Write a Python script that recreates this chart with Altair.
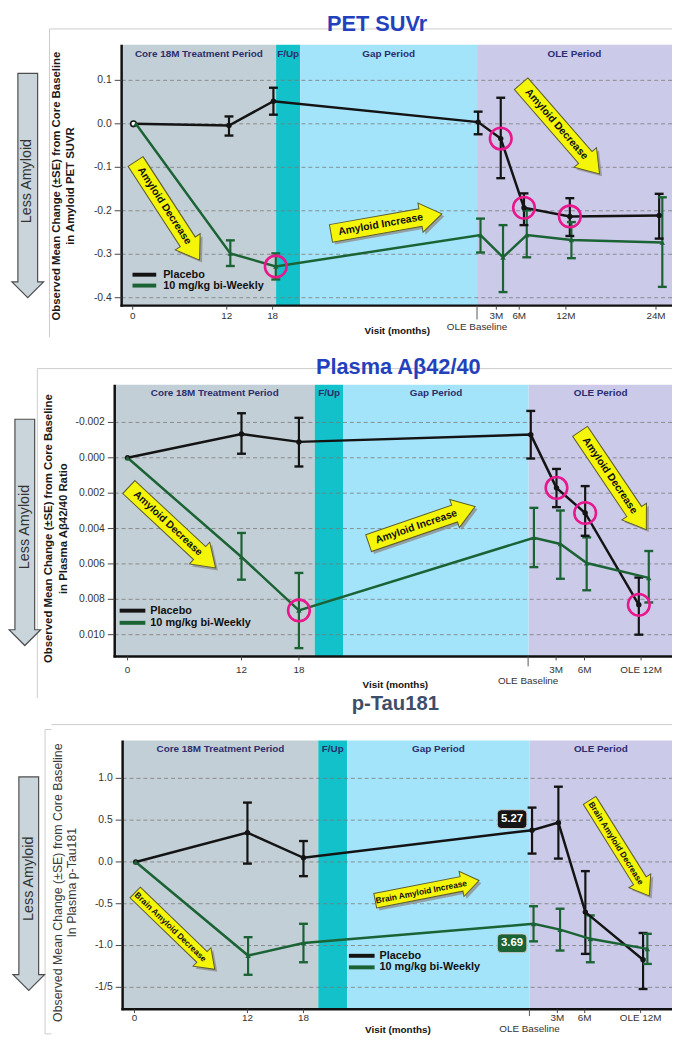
import altair as alt
import pandas as pd

FONT = "Liberation Sans"
OFF = 8  # page margin: all layout numbers below are page pixels
SERIES = ["Placebo", "10 mg/kg bi-Weekly"]
SERIES_COLORS = ["#141414", "#1b6334"]
PERIODS = ["Core 18M Treatment Period", "F/Up", "Gap Period", "OLE Period"]
PERIOD_COLORS = ["#c3cfd6", "#12c1ca", "#a3e4fb", "#cbcae9"]
CIRCLE_COLOR = "#e8178c"
CHART_W, CHART_H = 672, 1033

# ---------------- Panel 1: PET SUVr ----------------
pet_visits = ["0", "12", "18", "OLE Baseline", "3M", "6M", "12M", "24M"]
pet_tick_pos = [-0.1, 11.8, 17.6, 45.9, 48.8, 54.7, 66.1]
pet_tick_lab = ["0", "12", "18", "3M", "6M", "12M", "24M"]
pet_ole_bl = 43.46
pet_band_edges = [-1.5, 18.04, 21.1, 43.46, 68.125]
pet_x_placebo = [0.0, 12.08, 17.7, 43.6, 46.46, 49.4, 55.2, 66.5]
pet_x_treat = [0.3, 12.25, 18.0, 43.9, 46.75, 49.75, 55.4, 66.9]
pet_placebo = [0.0, -0.004, 0.052, 0.004, -0.034, -0.193, -0.213, -0.211]
pet_placebo_lo = [0.0, -0.027, 0.021, -0.024, -0.125, -0.233, -0.258, -0.264]
pet_placebo_hi = [0.0, 0.017, 0.083, 0.028, 0.060, -0.160, -0.171, -0.161]
pet_treat = [0.0, -0.298, -0.328, -0.256, -0.307, -0.256, -0.267, -0.273]
pet_treat_lo = [0.0, -0.327, -0.358, -0.296, -0.387, -0.307, -0.309, -0.375]
pet_treat_hi = [0.0, -0.268, -0.298, -0.218, -0.233, -0.199, -0.226, -0.169]
pet_yticks = [0.1, 0.0, -0.1, -0.2, -0.3, -0.4]
pet_ylabels = ["0.1", "0.0", "-0.1", "-0.2", "-0.3", "-0.4"]
pet_circled = [("10 mg/kg bi-Weekly", "18"), ("Placebo", "3M"), ("Placebo", "6M"), ("Placebo", "12M")]
pet_note_text = ["Amyloid Decrease", "Amyloid Increase", "Amyloid Decrease"]
pet_note_x = [4.31, 32.0, 54.0]
pet_note_y = [-0.200, -0.2295, -0.0114]
pet_note_angle = [57, 350, 49]
pet_note_len = [119, 114, 121]

# ---------------- Panel 2: Plasma Abeta42/40 ----------------
ab_visits = ["0", "12", "18", "OLE Baseline", "3M", "6M", "OLE 12M"]
ab_tick_pos = [0.0, 12.0, 18.05, 45.14, 48.13, 54.09]
ab_tick_lab = ["0", "12", "18", "3M", "6M", "OLE 12M"]
ab_ole_bl = 42.19
ab_band_edges = [-1.354, 19.72, 22.74, 42.25, 57.4]
ab_x_placebo = [0.0, 12.0, 18.05, 42.47, 45.18, 48.2, 53.85]
ab_x_treat = [0.0, 12.0, 18.05, 42.8, 45.59, 48.36, 54.9]
ab_placebo = [0.0, -0.00135, -0.0009, -0.00131, 0.0017, 0.00312, 0.00831]
ab_placebo_lo = [0.0, -0.00252, -0.00226, -0.00265, 0.00063, 0.0016, 0.00677]
ab_placebo_hi = [0.0, -0.00023, 0.00049, 0.00004, 0.00279, 0.00441, 0.0100]
ab_treat = [0.0, 0.00561, 0.00863, 0.00452, 0.00487, 0.00595, 0.00679]
ab_treat_lo = [0.0, 0.00425, 0.00651, 0.00283, 0.00298, 0.0045, 0.00527]
ab_treat_hi = [0.0, 0.00689, 0.01076, 0.00618, 0.00684, 0.00749, 0.00818]
ab_yticks = [-0.002, 0.0, 0.002, 0.004, 0.006, 0.008, 0.010]
ab_ylabels = ["-0.002", "0.000", "0.002", "0.004", "0.006", "0.008", "0.010"]
ab_circled = [("10 mg/kg bi-Weekly", "18"), ("Placebo", "3M"), ("Placebo", "6M"), ("Placebo", "OLE 12M")]
ab_note_text = ["Amyloid Decrease", "Amyloid Increase", "Amyloid Decrease"]
ab_note_x = [4.7, 31.0, 51.15]
ab_note_y = [0.00394, 0.00379, 0.00128]
ab_note_angle = [43, 341, 56]
ab_note_len = [120, 114, 120]

# ---------------- Panel 3: p-Tau181 ----------------
tau_visits = ["0", "12", "18", "OLE Baseline", "3M", "6M", "OLE 12M"]
tau_tick_pos = [-0.14, 11.96, 17.96, 45.15, 48.08, 54.07]
tau_tick_lab = ["0", "12", "18", "3M", "6M", "OLE 12M"]
tau_ole_bl = 42.16
tau_band_edges = [-1.407, 19.55, 22.65, 42.18, 57.43]
tau_x_placebo = [0.0, 11.96, 17.96, 42.44, 45.26, 48.15, 54.33]
tau_x_treat = [0.0, 12.03, 17.96, 42.6, 45.44, 48.68, 54.79]
tau_placebo = [0.0, 0.35, 0.05, 0.38, 0.47, -0.60, -1.17]
tau_placebo_lo = [0.0, -0.02, -0.17, 0.10, 0.04, -1.10, -1.52]
tau_placebo_hi = [0.0, 0.71, 0.25, 0.65, 0.90, -0.11, -0.85]
tau_treat = [0.0, -1.12, -0.97, -0.74, -0.81, -0.92, -1.04]
tau_treat_lo = [0.0, -1.35, -1.20, -0.95, -1.06, -1.20, -1.22]
tau_treat_hi = [0.0, -0.90, -0.74, -0.53, -0.56, -0.64, -0.86]
tau_yticks = [1.0, 0.5, 0.0, -0.5, -1.0, -1.5]
tau_ylabels = ["1.0", "0.5", "0.0", "-0.5", "-1.0", "-1/5"]
tau_note_text = ["Brain Amyloid Decrease", "Brain Amyloid Increase", "Brain Amyloid Decrease"]
tau_note_x = [4.2, 31.2, 51.8]
tau_note_y = [-0.825, -0.343, 0.165]
tau_note_angle = [44, 349, 58]
tau_note_len = [112, 107, 114]
tau_box_text = ["5.27", "3.69"]
tau_box_x = [40.3, 40.3]
tau_box_y = [0.512, -0.973]
tau_box_fill = ["#151515", "#1b6334"]

YTITLE1 = "Observed Mean Change (\u00b1SE) from Core Baseline"
ONE = pd.DataFrame({"k": [0]})


def px(v):
    return v - OFF


def arrow_path(L, body, head, headlen):
    r = L / 2.0
    b, hh, hx = body / r, head / r, 1 - headlen / r
    return (f"M-1,{-b:.4f}L{hx:.4f},{-b:.4f}L{hx:.4f},{-hh:.4f}L1,0"
            f"L{hx:.4f},{hh:.4f}L{hx:.4f},{b:.4f}L-1,{b:.4f}Z")


def box_path(w, h, rad):
    r = w / 2.0
    hy, c = (h / 2.0) / r, rad / r
    return (f"M{-1 + c:.4f},{-hy:.4f}L{1 - c:.4f},{-hy:.4f}Q1,{-hy:.4f} 1,{-hy + c:.4f}"
            f"L1,{hy - c:.4f}Q1,{hy:.4f} {1 - c:.4f},{hy:.4f}L{-1 + c:.4f},{hy:.4f}"
            f"Q-1,{hy:.4f} -1,{hy - c:.4f}L-1,{-hy + c:.4f}Q-1,{-hy:.4f} {-1 + c:.4f},{-hy:.4f}Z")


def series_frame(visits, xp, mp, lp, hp, xt, mt, lt, ht):
    rows = []
    for name, xs_, ms, ls, hs in ((SERIES[0], xp, mp, lp, hp), (SERIES[1], xt, mt, lt, ht)):
        for v, x, m, lo, hi in zip(visits, xs_, ms, ls, hs):
            rows.append({"series": name, "visit": v, "x": x, "mean": m, "lo": lo, "hi": hi})
    return pd.DataFrame(rows)


def hrule(x1, x2, y, color, width):
    return alt.Chart(ONE).mark_rule(color=color, strokeWidth=width).encode(
        x=alt.value(px(x1)), x2=alt.value(px(x2)), y=alt.value(px(y)))


def vrule(x, y1, y2, color, width):
    return alt.Chart(ONE).mark_rule(color=color, strokeWidth=width).encode(
        x=alt.value(px(x)), y=alt.value(px(y1)), y2=alt.value(px(y2)))


def ptext(x, y, text, **kw):
    style = dict(font=FONT, baseline="middle", align="center")
    style.update(kw)
    return alt.Chart(ONE).mark_text(**style).encode(
        x=alt.value(px(x)), y=alt.value(px(y)), text=alt.value(text))


def make_panel(P):
    L, R, T, B = P["L"], P["R"], P["T"], P["B"]
    xs = alt.Scale(domain=[0, 12], range=[px(P["x0px"]), px(P["x12px"])], nice=False, zero=False)
    ys = alt.Scale(domain=P["ydom"], range=[px(P["yrange"][0]), px(P["yrange"][1])], nice=False, zero=False)
    X = alt.X("x:Q", scale=xs, axis=None)
    layers = []
    e = P["band_edges"]
    bands = pd.DataFrame({"x0": e[:-1], "x1": e[1:], "fill": PERIOD_COLORS, "label": PERIODS})
    bands["xc"] = (bands["x0"] + bands["x1"]) / 2
    layers.append(alt.Chart(bands).mark_rect().encode(
        x=alt.X("x0:Q", scale=xs, axis=None), x2="x1:Q", y=alt.value(px(T)), y2=alt.value(px(B)),
        fill=alt.Fill("fill:N", scale=None)))
    ydf = pd.DataFrame({"g": P["yticks"], "lab": P["ylabels"]})
    layers.append(alt.Chart(ydf).mark_rule(color="#7a7a7a", strokeWidth=0.8, strokeDash=[4, 3]).encode(
        y=alt.Y("g:Q", scale=ys, axis=None), x=alt.value(px(L)), x2=alt.value(px(R))))
    for fr in P["frames"]:
        if fr[0] == "h":
            layers.append(hrule(fr[1], fr[2], fr[3], "#cccccc", 1))
        else:
            layers.append(vrule(fr[1], fr[2], fr[3], "#cccccc", 1))
    layers.append(alt.Chart(bands).mark_text(font=FONT, fontSize=10, fontWeight="bold", color="#2b2e6e",
                                             baseline="middle").encode(
        x=alt.X("xc:Q", scale=xs, axis=None), y=alt.value(px(P["period_y"])), text="label:N"))
    # annotation arrows
    notes = pd.DataFrame({"label": P["note_text"], "x": P["note_x"], "y": P["note_y"],
                          "angle": P["note_angle"], "len": P["note_len"]})
    notes["size"] = notes["len"] ** 2
    notes["path"] = [arrow_path(n, *P["arrow_geom"]) for n in notes["len"]]
    nbase = alt.Chart(notes).encode(x=X, y=alt.Y("y:Q", scale=ys, axis=None),
                                    shape=alt.Shape("path:N", scale=None),
                                    size=alt.Size("size:Q", scale=None),
                                    angle=alt.Angle("angle:Q", scale=None))
    layers.append(nbase.mark_point(filled=True, fill="#8e8e8e", strokeWidth=0, opacity=0.8,
                                   xOffset=2.5, yOffset=2.5))
    layers.append(nbase.mark_point(filled=True, fill="#f5f50a", stroke="#5c5c2e", strokeWidth=1, opacity=1))
    layers.append(alt.Chart(notes).mark_text(font=FONT, fontSize=P["note_fs"], fontWeight="bold",
                                             color="#111", dx=-6, baseline="middle").encode(
        x=X, y=alt.Y("y:Q", scale=ys, axis=None), text="label:N",
        angle=alt.Angle("angle:Q", scale=None)))
    # data series
    df = P["df"]
    color = alt.Color("series:N", scale=alt.Scale(domain=SERIES, range=SERIES_COLORS), legend=None)
    err = df[df["lo"] != df["hi"]]
    layers.append(alt.Chart(err).mark_rule(strokeWidth=2.2).encode(
        x=X, y=alt.Y("lo:Q", scale=ys, axis=None), y2="hi:Q", color=color))
    for fld in ("lo", "hi"):
        layers.append(alt.Chart(err).mark_point(shape="stroke", size=81, strokeWidth=2.4, opacity=1).encode(
            x=X, y=alt.Y(f"{fld}:Q", scale=ys, axis=None), color=color))
    Ym = alt.Y("mean:Q", scale=ys, axis=None)
    layers.append(alt.Chart(df).mark_line(strokeWidth=2.5).encode(x=X, y=Ym, color=color))
    plc = df[df["series"] == SERIES[0]]
    if P.get("open_baseline"):
        layers.append(alt.Chart(plc[plc["visit"] != "0"]).mark_point(
            filled=True, shape="circle", size=30, opacity=1).encode(x=X, y=Ym, color=color))
        layers.append(alt.Chart(plc[plc["visit"] == "0"]).mark_point(
            filled=True, shape="circle", size=32, fill="white", stroke=SERIES_COLORS[0], strokeWidth=1.6,
            opacity=1).encode(x=X, y=Ym))
    else:
        layers.append(alt.Chart(plc).mark_point(
            filled=True, shape="circle", size=30, opacity=1).encode(x=X, y=Ym, color=color))
    layers.append(alt.Chart(df[df["series"] == SERIES[1]]).mark_point(
        filled=True, shape="triangle-up", size=30, opacity=1).encode(x=X, y=Ym, color=color))
    if P.get("circled"):
        cdf = df.merge(pd.DataFrame(P["circled"], columns=["series", "visit"]), on=["series", "visit"])
        layers.append(alt.Chart(cdf).mark_point(shape="circle", filled=False, size=480, strokeWidth=2.6,
                                                color=CIRCLE_COLOR, opacity=1).encode(x=X, y=Ym))
    if P.get("boxes") is not None:
        bx = P["boxes"]
        layers.append(alt.Chart(bx).mark_point(shape=box_path(30, 19, 4), size=900, filled=True,
                                               stroke="#d0d0d0", strokeWidth=1, opacity=1).encode(
            x=X, y=alt.Y("y:Q", scale=ys, axis=None), fill=alt.Fill("fill:N", scale=None)))
        layers.append(alt.Chart(bx).mark_text(font=FONT, fontSize=11.5, fontWeight="bold", color="white",
                                              baseline="middle").encode(
            x=X, y=alt.Y("y:Q", scale=ys, axis=None), text="label:N"))
    # legend
    lg = P["legend"]
    for name, col, yy in zip(SERIES, SERIES_COLORS, lg["rows"]):
        layers.append(hrule(lg["x1"], lg["x2"], yy, col, 4))
        layers.append(ptext(lg["tx"], yy, name, fontSize=11, fontWeight="bold", color="#111", align="left"))
    # "Less Amyloid" arrow
    la = P["less"]
    layers.append(alt.Chart(ONE).mark_point(shape=arrow_path(la["L"], 10, 16, 16), size=la["L"] ** 2, angle=90,
                                            filled=True, fill="#c9d5db", stroke="#4d4d4d", strokeWidth=1.2,
                                            opacity=1).encode(x=alt.value(px(la["cx"])), y=alt.value(px(la["cy"]))))
    layers.append(ptext(la["tx"], la["ty"], "Less Amyloid", fontSize=14.5, color="#333", angle=270))
    # axes (drawn as marks)
    layers.append(vrule(L, T, B + 1.2, "#111", 2.5))
    layers.append(hrule(L - 1.2, R, B, "#111", 2.5))
    layers.append(alt.Chart(ydf).mark_rule(color="#444", strokeWidth=1).encode(
        y=alt.Y("g:Q", scale=ys, axis=None), x=alt.value(px(L - 7)), x2=alt.value(px(L))))
    layers.append(alt.Chart(ydf).mark_text(font=FONT, fontSize=10.5, color="#333", align="right",
                                           baseline="middle").encode(
        y=alt.Y("g:Q", scale=ys, axis=None), x=alt.value(px(L - 10)), text="lab:N"))
    xdf = pd.DataFrame({"x": P["tick_pos"], "lab": P["tick_lab"]})
    layers.append(alt.Chart(xdf).mark_rule(color="#444", strokeWidth=1).encode(
        x=X, y=alt.value(px(B)), y2=alt.value(px(B + 4))))
    layers.append(alt.Chart(xdf).mark_text(font=FONT, fontSize=10, color="#333", baseline="middle").encode(
        x=X, y=alt.value(px(P["xlab_y"])), text="lab:N"))
    ole = pd.DataFrame({"x": [P["ole_bl"]]})
    layers.append(alt.Chart(ole).mark_rule(color="#555", strokeWidth=1).encode(
        x=X, y=alt.value(px(B)), y2=alt.value(px(P["ole_tick_end"]))))
    layers.append(alt.Chart(ole).mark_text(font=FONT, fontSize=10, color="#333", baseline="middle").encode(
        x=X, y=alt.value(px(P["ole_lab_y"])), text=alt.value("OLE Baseline")))
    layers.append(ptext(P["visit_xy"][0], P["visit_xy"][1], "Visit (months)", fontSize=10,
                        fontWeight="bold", color="#111"))
    yt = P["ytitle"]
    for line, lx in zip(yt["lines"], yt["x"]):
        layers.append(ptext(lx, yt["y"], line, fontSize=yt["size"], fontWeight=yt["weight"],
                            color=yt["color"], angle=270))
    t = P["title"]
    layers.append(ptext(t["x"], t["y"], t["text"], fontSize=t["size"], fontWeight="bold", color=t["color"],
                        baseline="alphabetic"))
    return alt.layer(*layers)


P1 = dict(
    L=123, R=680, T=39, B=303, x0px=135, x12px=231,
    ydom=[-0.4, 0.0], yrange=[295, 119],
    band_edges=pet_band_edges, period_y=48,
    yticks=pet_yticks, ylabels=pet_ylabels,
    tick_pos=pet_tick_pos, tick_lab=pet_tick_lab, xlab_y=313.5,
    ole_bl=pet_ole_bl, ole_tick_end=317, ole_lab_y=324.5, visit_xy=(402, 329),
    ytitle=dict(lines=[YTITLE1, "in Amyloid PET SUVR"], x=[58, 72], y=182, size=11.5,
                weight="bold", color="#1a1a1a"),
    frames=[("h", 50, 680, 23), ("v", 50, 23, 335)],
    note_text=pet_note_text, note_x=pet_note_x, note_y=pet_note_y, note_angle=pet_note_angle,
    note_len=pet_note_len, arrow_geom=(9, 15, 22), note_fs=10.5,
    df=series_frame(pet_visits, pet_x_placebo, pet_placebo, pet_placebo_lo, pet_placebo_hi,
                    pet_x_treat, pet_treat, pet_treat_lo, pet_treat_hi),
    circled=pet_circled, open_baseline=True,
    legend=dict(x1=134, x2=158, tx=165, rows=[271.7, 282.7]),
    less=dict(cx=28, cy=181.5, L=227, tx=27.5, ty=177),
    title=dict(text="PET SUVr", x=381.5, y=25, size=22, color="#2341bd"),
)

P2 = dict(
    L=116, R=680, T=383, B=658, x0px=129, x12px=244.3,
    ydom=[0.0, 0.010], yrange=[457, 636],
    band_edges=ab_band_edges, period_y=391.7,
    yticks=ab_yticks, ylabels=ab_ylabels,
    tick_pos=ab_tick_pos, tick_lab=ab_tick_lab, xlab_y=671.5,
    ole_bl=ab_ole_bl, ole_tick_end=668, ole_lab_y=682.7, visit_xy=(400, 687.3),
    ytitle=dict(lines=[YTITLE1, "in Plasma A\u03b242/40 Ratio"], x=[50, 65], y=528.7, size=11.5,
                weight="bold", color="#1a1a1a"),
    frames=[("h", 37.7, 680, 366.7), ("v", 37.7, 366.7, 700)],
    note_text=ab_note_text, note_x=ab_note_x, note_y=ab_note_y, note_angle=ab_note_angle,
    note_len=ab_note_len, arrow_geom=(9, 15, 22), note_fs=10.5,
    df=series_frame(ab_visits, ab_x_placebo, ab_placebo, ab_placebo_lo, ab_placebo_hi,
                    ab_x_treat, ab_treat, ab_treat_lo, ab_treat_hi),
    circled=ab_circled,
    legend=dict(x1=121, x2=147, tx=152, rows=[611.7, 624]),
    less=dict(cx=25, cy=532.5, L=229, tx=25, ty=527),
    title=dict(text="Plasma A\u03b242/40", x=403, y=372, size=22, color="#2341bd"),
)

P3 = dict(
    L=124, R=680, T=743, B=1015, x0px=137.3, x12px=250.7,
    ydom=[-1.5, 0.0], yrange=[992.9, 866],
    band_edges=tau_band_edges, period_y=751.7,
    yticks=tau_yticks, ylabels=tau_ylabels,
    tick_pos=tau_tick_pos, tick_lab=tau_tick_lab, xlab_y=1023.5,
    ole_bl=tau_ole_bl, ole_tick_end=1022, ole_lab_y=1035.5, visit_xy=(402.6, 1036),
    ytitle=dict(lines=[YTITLE1, "In Plasma p-Tau181"], x=[58.5, 73], y=887, size=12.5,
                weight="normal", color="#3a3a3a"),
    frames=[("h", 52, 680, 727), ("v", 45.5, 732, 1040), ("h", 45.5, 52, 732), ("h", 45.5, 52, 1040)],
    note_text=tau_note_text, note_x=tau_note_x, note_y=tau_note_y, note_angle=tau_note_angle,
    note_len=tau_note_len, arrow_geom=(7.5, 13, 18), note_fs=8.5,
    df=series_frame(tau_visits, tau_x_placebo, tau_placebo, tau_placebo_lo, tau_placebo_hi,
                    tau_x_treat, tau_treat, tau_treat_lo, tau_treat_hi),
    circled=None,
    boxes=pd.DataFrame({"label": tau_box_text, "x": tau_box_x, "y": tau_box_y, "fill": tau_box_fill}),
    legend=dict(x1=353, x2=379, tx=384, rows=[961, 972.7]),
    less=dict(cx=29, cy=888, L=216, tx=29, ty=883),
    title=dict(text="p-Tau181", x=400, y=712, size=20.5, color="#3e4e68"),
)

chart = alt.layer(make_panel(P1), make_panel(P2), make_panel(P3)).resolve_scale(
    x="independent", y="independent"
).properties(
    width=CHART_W, height=CHART_H, padding=0, background="white",
    autosize=alt.AutoSizeParams(type="none"),
).configure_view(stroke=None)

chart.save("out.html", embed_options={"renderer": "svg", "actions": False})
